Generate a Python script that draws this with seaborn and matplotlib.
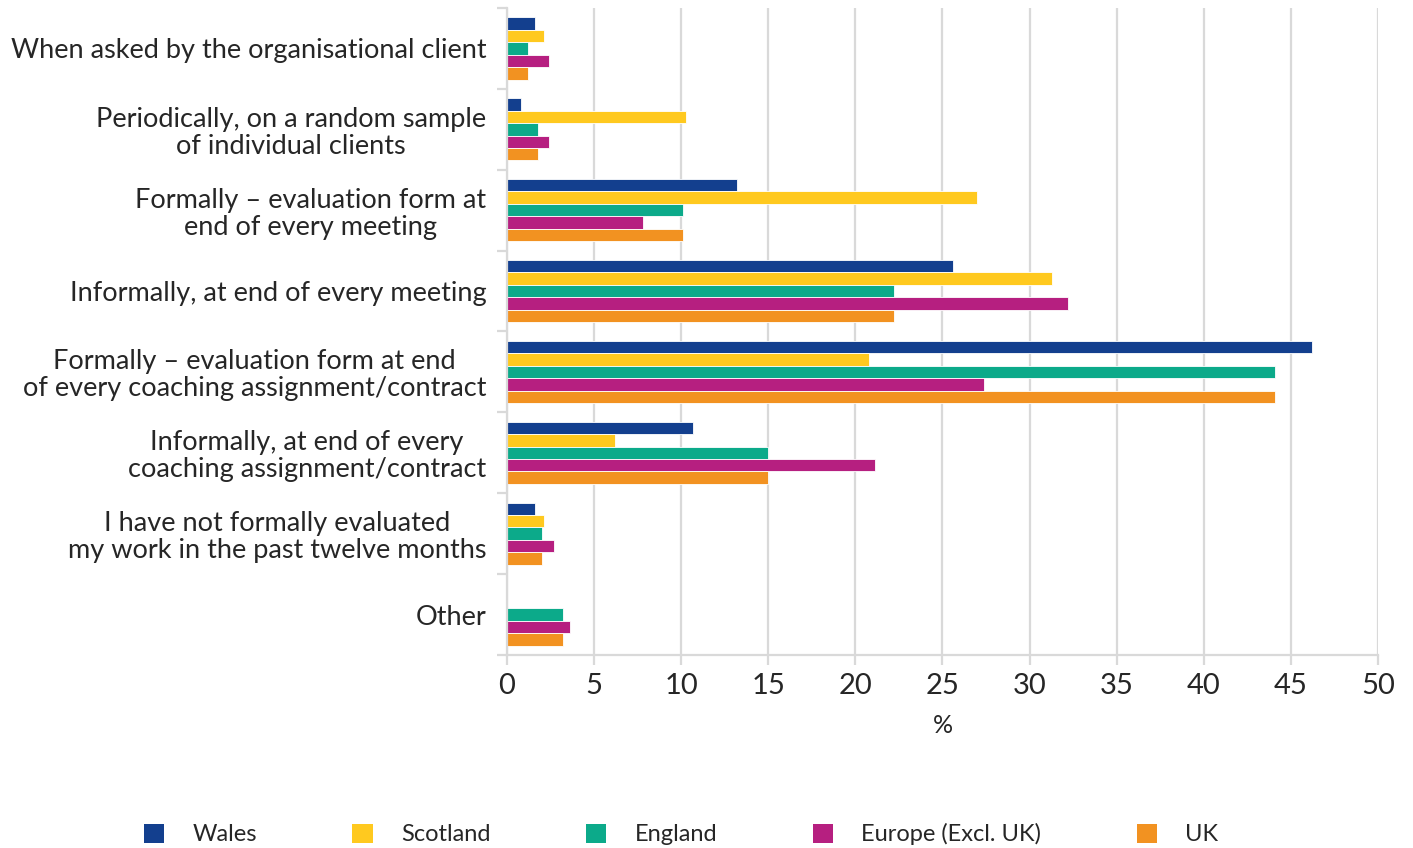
import pandas as pd
import matplotlib.pyplot as plt
import seaborn as sns
from matplotlib.patches import Patch

# categories (top to bottom)
categories = [
    "When asked by the organisational client",
    "Periodically, on a random sample\nof individual clients",
    "Formally \u2013 evaluation form at\nend of every meeting",
    "Informally, at end of every meeting",
    "Formally \u2013 evaluation form at end\nof every coaching assignment/contract",
    "Informally, at end of every\ncoaching assignment/contract",
    "I have not formally evaluated\nmy work in the past twelve months",
    "Other",
]

regions = ["Wales", "Scotland", "England", "Europe (Excl. UK)", "UK"]

wales = [1.6, 0.8, 13.2, 25.6, 46.2, 10.7, 1.6, 0.0]
scotland = [2.1, 10.3, 27.0, 31.3, 20.8, 6.2, 2.1, 0.0]
england = [1.2, 1.8, 10.1, 22.2, 44.1, 15.0, 2.0, 3.2]
europe = [2.4, 2.4, 7.8, 32.2, 27.4, 21.1, 2.7, 3.6]
uk = [1.2, 1.8, 10.1, 22.2, 44.1, 15.0, 2.0, 3.2]

colours = ["#133F8E", "#FFC91F", "#0CAA8A", "#B61F80", "#F29221"]


def make_chart(output_path):
    sns.set_theme(style="white")
    plt.rcParams["font.family"] = ["Lato", "DejaVu Sans"]

    rows = []
    for region, vals in zip(regions, [wales, scotland, england, europe, uk]):
        for cat, v in zip(categories, vals):
            rows.append({"category": cat, "region": region, "pct": v})
    df = pd.DataFrame(rows)

    fig = plt.figure(figsize=(14.13, 8.48), dpi=100)
    ax = fig.add_axes([0.3588, 0.2276, 0.6164, 0.763])

    sns.barplot(data=df, y="category", x="pct", hue="region", order=categories,
                hue_order=regions, palette=colours, saturation=1, width=0.77, orient="h",
                edgecolor="white", linewidth=0.6, ax=ax, legend=False)

    ax.set_xlim(0, 50)
    ax.set_xticks(range(0, 51, 5))
    ax.set_ylim(len(categories) - 0.5, -0.5)
    ax.grid(axis="x", color="#d9d9d9", linewidth=1.6)
    ax.set_axisbelow(True)

    for side in ["top", "right"]:
        ax.spines[side].set_visible(False)
    for side in ["left", "bottom"]:
        ax.spines[side].set_color("#d9d9d9")
        ax.spines[side].set_linewidth(1.6)

    # ticks between categories on the left, under gridlines at bottom
    ax.set_yticks([i - 0.5 for i in range(len(categories) + 1)], minor=True)
    ax.tick_params(axis="y", which="minor", length=7, width=1.6, color="#d9d9d9", left=True)
    ax.tick_params(axis="y", which="major", length=0, pad=15, labelsize=19.5)
    ax.tick_params(axis="x", which="major", length=7, width=1.6, color="#d9d9d9",
                   bottom=True, labelsize=21, pad=6)
    for lab in ax.get_yticklabels():
        lab.set_multialignment("center")
        lab.set_linespacing(1.1)

    ax.set_ylabel("")
    ax.set_xlabel("%", fontsize=18, labelpad=11)

    handles = [Patch(facecolor=c, edgecolor="none") for c in colours]
    fig.legend(handles, regions, loc="lower center", bbox_to_anchor=(0.482, -0.022),
               ncol=5, frameon=False, fontsize=17, handlelength=0.85, handleheight=0.85,
               handletextpad=1.2, columnspacing=4.05)

    fig.savefig(output_path, dpi=100)


def main():
    make_chart("out.png")


if __name__ == "__main__":
    main()
